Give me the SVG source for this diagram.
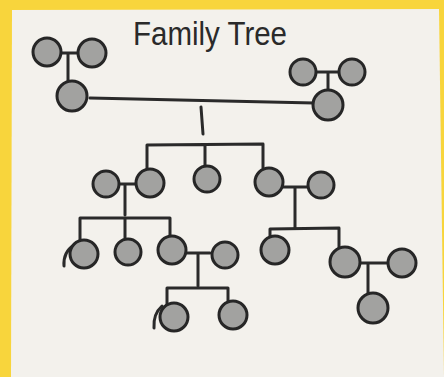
<svg xmlns="http://www.w3.org/2000/svg" width="444" height="377" viewBox="0 0 444 377">
<style>
.p{fill:#a2a2a0;stroke:#262626;stroke-width:3}
.c{fill:none;stroke:#2a2a2a;stroke-width:3;stroke-linecap:round;stroke-linejoin:round}
.t{font-family:"Liberation Sans",Arial,sans-serif;font-size:34px;fill:#2a2a2a}
</style>
<rect x="0" y="0" width="444" height="377" fill="#f8d53c"/>
<polygon points="12,10 439,9 444,377 11,377" fill="#f3f1ec"/>
<text class="t" x="210" y="45" text-anchor="middle" textLength="154" lengthAdjust="spacingAndGlyphs">Family Tree</text>
<g id="connectors">
<path class="c" d="M57,53 H80 M68,53 V82"/>
<path class="c" d="M314,72 H340 M328,72 V91"/>
<path class="c" d="M90,98 L314,103 M201,107 L203,134"/>
<path class="c" d="M147,170 V145 L263,144 V168 M205,145 V166"/>
<path class="c" d="M118,184 H137 M125,184 V215"/>
<path class="c" d="M283,187 H307 M295,187 V228"/>
<path class="c" d="M80,240 V218 H170 V237 M125,218 V238"/>
<path class="c" d="M270,240 V229 L339,228 V248"/>
<path class="c" d="M186,253 H210 M198,253 V286"/>
<path class="c" d="M167,305 V288 H228 V301"/>
<path class="c" d="M360,263 H387 M368,263 V293"/>
<path class="c" d="M74,245 Q63,252 64,266 M162,306 Q153,314 154,328" stroke-width="2"/>
</g>
<g id="gp1"><circle class="p" cx="47" cy="52" r="14"/></g>
<g id="gp2"><circle class="p" cx="92" cy="53" r="14"/></g>
<g id="parent1"><circle class="p" cx="72" cy="96" r="15"/></g>
<g id="gp3"><circle class="p" cx="303" cy="72" r="13"/></g>
<g id="gp4"><circle class="p" cx="352" cy="72" r="13"/></g>
<g id="parent2"><circle class="p" cx="328" cy="105" r="15"/></g>
<g id="child1"><circle class="p" cx="150" cy="183" r="14"/></g>
<g id="child2"><circle class="p" cx="207" cy="179" r="13"/></g>
<g id="child3"><circle class="p" cx="269" cy="182" r="14"/></g>
<g id="spouse1"><circle class="p" cx="106" cy="184" r="13"/></g>
<g id="spouse3"><circle class="p" cx="321" cy="185" r="13"/></g>
<g id="gc1"><circle class="p" cx="84" cy="254" r="14"/></g>
<g id="gc2"><circle class="p" cx="128" cy="252" r="13"/></g>
<g id="gc3"><circle class="p" cx="172" cy="250" r="14"/></g>
<g id="gcspouse"><circle class="p" cx="225" cy="255" r="13"/></g>
<g id="gc4"><circle class="p" cx="275" cy="250" r="14"/></g>
<g id="gc5"><circle class="p" cx="345" cy="262" r="15"/></g>
<g id="gc5spouse"><circle class="p" cx="402" cy="263" r="14"/></g>
<g id="ggc1"><circle class="p" cx="174" cy="317" r="14"/></g>
<g id="ggc2"><circle class="p" cx="233" cy="315" r="14"/></g>
<g id="ggc3"><circle class="p" cx="373" cy="308" r="15"/></g>
</svg>
